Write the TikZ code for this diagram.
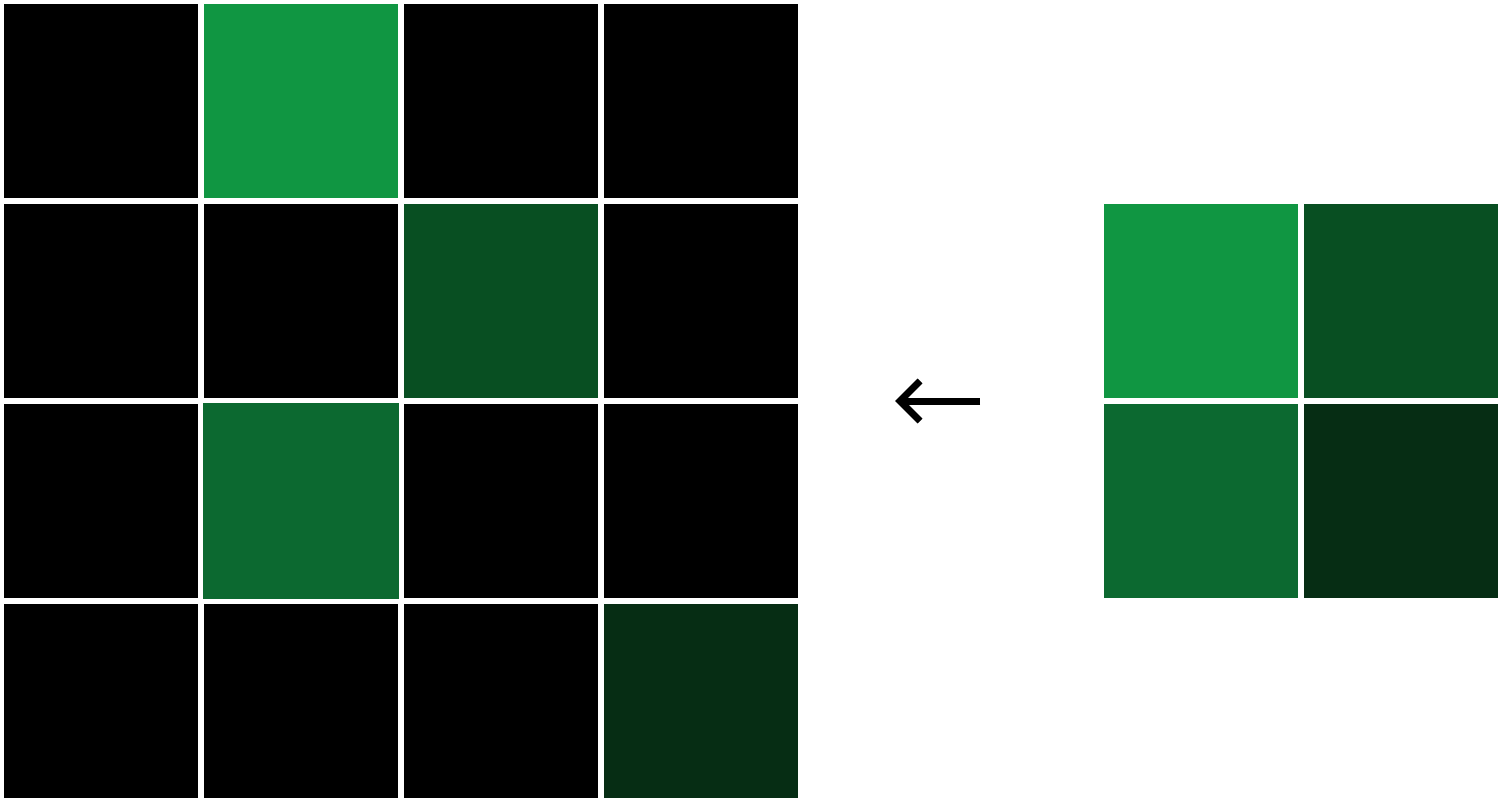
\documentclass[tikz,border=0pt]{standalone}
\definecolor{gA}{RGB}{16,150,66}
\definecolor{gB}{RGB}{8,79,34}
\definecolor{gC}{RGB}{12,105,48}
\definecolor{gD}{RGB}{6,45,20}
\begin{document}
\begin{tikzpicture}[x=1pt,y=-1pt,
  cell/.style={rectangle,inner sep=0pt,outer sep=0pt,minimum size=194pt,draw=none,fill=black},
  bigcell/.style={cell,minimum size=196pt},
  arrowline/.style={line width=7pt,line cap=butt,line join=miter}]
\useasboundingbox[fill=white] (0,0) rectangle (1502,802);
% left 4x4 grid
\node[cell] (l11) at (101,101) {};
\node[cell,fill=gA] (l12) at (301,101) {};
\node[cell] (l13) at (501,101) {};
\node[cell] (l14) at (701,101) {};
\node[cell] (l21) at (101,301) {};
\node[cell] (l22) at (301,301) {};
\node[cell,fill=gB] (l23) at (501,301) {};
\node[cell] (l24) at (701,301) {};
\node[cell] (l31) at (101,501) {};
\node[bigcell,fill=gC] (l32) at (301,501) {};
\node[cell] (l33) at (501,501) {};
\node[cell] (l34) at (701,501) {};
\node[cell] (l41) at (101,701) {};
\node[cell] (l42) at (301,701) {};
\node[cell] (l43) at (501,701) {};
\node[cell,fill=gD] (l44) at (701,701) {};
% right 2x2 grid
\node[cell,fill=gA] (r11) at (1201,301) {};
\node[cell,fill=gB] (r12) at (1401,301) {};
\node[cell,fill=gC] (r21) at (1201,501) {};
\node[cell,fill=gD] (r22) at (1401,501) {};
% arrow
\coordinate (atail) at (980,401);
\coordinate (atip) at (900,401);
\coordinate (aup) at (920,381);
\coordinate (adown) at (920,421);
\draw[arrowline] (atail) -- (atip);
\draw[arrowline] (aup) -- (atip) -- (adown);
\end{tikzpicture}
\end{document}
